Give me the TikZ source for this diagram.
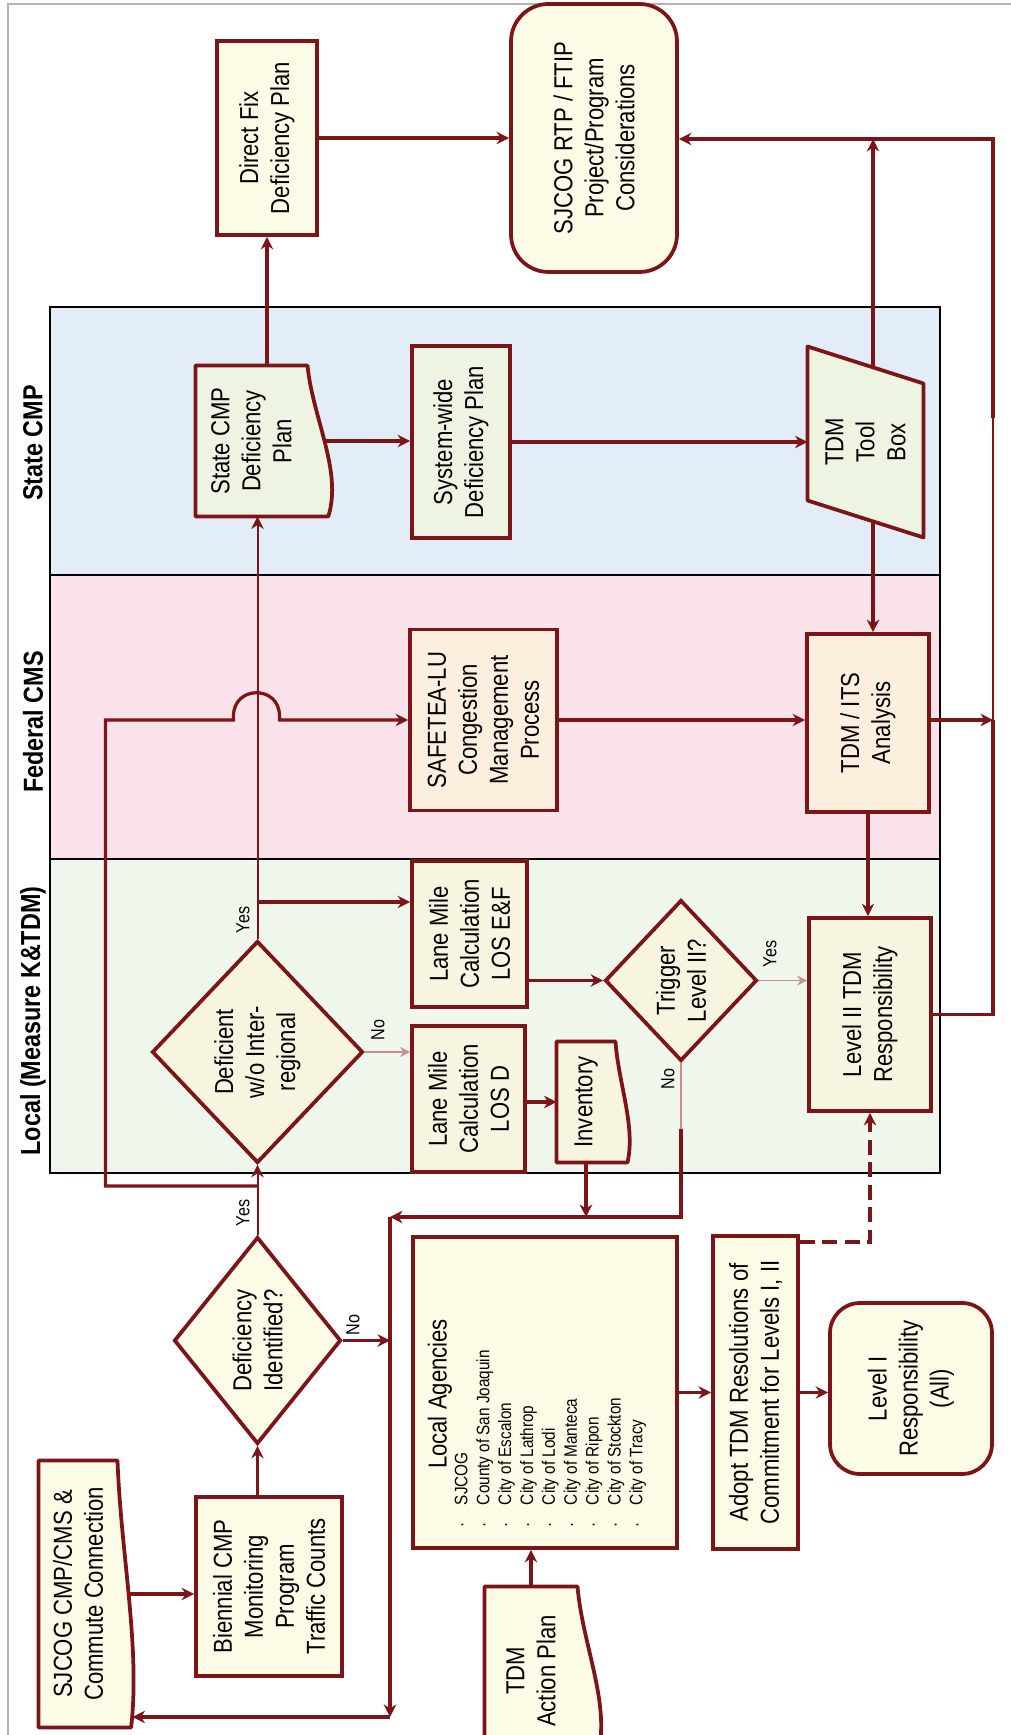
\documentclass[tikz,border=0pt]{standalone}
\usepackage{fontspec}
\setmainfont{Liberation Sans}[FakeStretch=0.85]
\usepackage{tikz}
\usetikzlibrary{positioning,arrows.meta,shapes.geometric,calc}

\definecolor{cmpred}{HTML}{7D1518}
\definecolor{cmplight}{HTML}{CC8E90}
\definecolor{laneblue}{HTML}{E3EDF8}
\definecolor{lanepink}{HTML}{FAE2EB}
\definecolor{lanegreen}{HTML}{EFF6EC}
\definecolor{fillcream}{HTML}{FCFBE6}
\definecolor{fillsage}{HTML}{EEF4E2}
\definecolor{fillpeach}{HTML}{FDEFDD}
\definecolor{fillstraw}{HTML}{F7F5DF}

\newcommand{\nodefont}{\fontsize{10.4}{12.4}\selectfont}

\pgfdeclarelayer{lanes}
\pgfdeclarelayer{shapes}
\pgfsetlayers{lanes,shapes,main}

% document symbol: wavy lower edge under the node body
\newcommand{\docoutline}[3]{%
  \begin{pgfonlayer}{shapes}
    \filldraw[draw=cmpred, line width=1.5pt, fill=#2, line join=round]
      (#1.north west) -- (#1.north east) -- (#1.south east)
      .. controls ($(#1.south east)!0.35!(#1.south west)+(0,{0.2*#3})$)
             and ($(#1.south east)!0.7!(#1.south west)+(0,{1.35*#3})$)
      .. ($(#1.south west)+(0,{0.8*#3})$) -- cycle;
  \end{pgfonlayer}}

\begin{document}
\begin{tikzpicture}[x=0.4pt, y=-0.4pt, rotate=90, transform shape,
  >={Stealth[length=5pt,width=5pt]},
  box/.style={draw=cmpred, line width=1.5pt, inner sep=2pt, align=center, font=\nodefont},
  docbox/.style={inner sep=2pt, align=center, font=\nodefont},
  decision/.style={diamond, draw=cmpred, line width=1.5pt, inner sep=0pt, align=center, font=\nodefont},
  terminal/.style={box, rounded corners=15pt},
  lanelabel/.style={font=\fontsize{11}{13}\selectfont\bfseries},
  yn/.style={font=\fontsize{7.6}{9}\selectfont, inner sep=1pt},
  line/.style={draw=cmpred, line width=1.3pt},
  arr/.style={line, ->},
  midarr/.style={draw=cmpred, line width=0.8pt, ->},
  lightline/.style={draw=cmplight, line width=0.7pt},
  thinarr/.style={lightline, -{Stealth[length=4pt,width=4pt]}},
  dasharr/.style={arr, dash pattern=on 6pt off 3pt}]

  \useasboundingbox (0,0) rectangle (1735,1011);
  \clip (0,0) rectangle (1735,1011);

  \begin{pgfonlayer}{lanes}
    \fill[laneblue] (1160,50) rectangle (1428,940);
    \fill[lanepink] (876,50) rectangle (1160,940);
    \fill[lanegreen] (562,50) rectangle (876,940);
    \draw[line width=0.8pt] (562,50) rectangle (1428,940)
      (876,50) -- (876,940) (1160,50) -- (1160,940);
  \end{pgfonlayer}
  \draw[gray!60, line width=0.6pt] (-5,8) -- (1731,8) -- (1731,1020);

  \node[lanelabel] (statelbl) at (1292,33) {State CMP};
  \node[lanelabel] (fedlbl) at (1013,33) {Federal CMS};
  \node[lanelabel] (locallbl) at (714,33) {Local (Measure K\&TDM)};

  \node[box, fill=fillcream, minimum width=77.6pt, minimum height=40pt] (directfix) at (1597,267) {Direct Fix\\Deficiency Plan};
  \node[terminal, fill=fillcream, minimum width=107.2pt, minimum height=66.4pt] (rtp) at (1597,594) {SJCOG RTP / FTIP\\Project/Program\\Considerations};
  \node[docbox, minimum width=60pt, minimum height=44.4pt] (statedoc) at (1294,251.5) {State CMP\\Deficiency\\Plan};
  \node[box, fill=fillsage, minimum width=76.8pt, minimum height=39.2pt] (syswide) at (1293,461) {System-wide\\Deficiency Plan};
  \node[docbox, minimum width=76pt, minimum height=46pt] (toolbox) at (1293,865.5) {TDM\\Tool\\Box};
  \node[box, fill=fillpeach, minimum width=72.4pt, minimum height=58.8pt] (safetea) at (1015,483.5) {SAFETEA-LU\\Congestion\\Management\\Process};
  \node[box, fill=fillpeach, minimum width=71.2pt, minimum height=48.8pt] (tdmits) at (1012,868) {TDM / ITS\\Analysis};
  \node[box, fill=fillstraw, minimum width=58.4pt, minimum height=46pt] (lmef) at (801,469.5) {Lane Mile\\Calculation\\LOS E\&F};
  \node[box, fill=fillstraw, minimum width=58.4pt, minimum height=45.2pt] (lmd) at (636,468.5) {Lane Mile\\Calculation\\LOS D};
  \node[docbox, minimum width=48pt, minimum height=23.2pt] (inventory) at (633,586) {Inventory};
  \node[decision, fill=fillstraw, minimum width=64.4pt, minimum height=60.8pt] (trigger) at (754.5,681) {Trigger\\Level II?};
  \node[box, fill=fillstraw, minimum width=77.2pt, minimum height=48.8pt] (level2) at (720.5,870) {Level II TDM\\Responsibility};
  \node[decision, fill=fillstraw, minimum width=88.8pt, minimum height=84.4pt] (deficient) at (683,257.5) {Deficient\\w/o Inter-\\regional};
  \node[decision, fill=fillcream, minimum width=82.8pt, minimum height=66.8pt] (defid) at (394.5,257.5) {Deficiency\\Identified?};
  \node[box, fill=fillcream, minimum width=71.6pt, minimum height=58.4pt] (biennial) at (148.5,269) {Biennial CMP\\Monitoring\\Program\\Traffic Counts};
  \node[docbox, minimum width=106.4pt, minimum height=31.2pt] (sjcogcmp) at (141,78) {SJCOG CMP/CMS \&\\Commute Connection};
  \node[box, fill=fillcream, minimum width=124.4pt, minimum height=105.6pt] (agencies) at (342.5,545) {};
  \node[font=\nodefont] (agtitle) at (341,440) {Local Agencies};
  \node[font=\fontsize{7.2}{8.75}\selectfont, align=left, anchor=west, inner sep=0pt] (aglist) at (207,550.5)
    {\makebox[9pt][l]{·}SJCOG\\\makebox[9pt][l]{·}County of San Joaquin\\\makebox[9pt][l]{·}City of Escalon\\
     \makebox[9pt][l]{·}City of Lathrop\\\makebox[9pt][l]{·}City of Lodi\\\makebox[9pt][l]{·}City of Manteca\\
     \makebox[9pt][l]{·}City of Ripon\\\makebox[9pt][l]{·}City of Stockton\\\makebox[9pt][l]{·}City of Tracy};
  \node[box, fill=fillcream, minimum width=125.2pt, minimum height=34pt] (adopt) at (342.5,755.5) {Adopt TDM Resolutions of\\Commitment for Levels I, II};
  \node[terminal, rounded corners=12pt, fill=fillcream, minimum width=68.4pt, minimum height=64.8pt] (level1) at (346.5,911) {Level I\\Responsibility\\(All)};
  \node[docbox, minimum width=67.2pt, minimum height=36.8pt] (actionplan) at (64,531) {TDM\\Action Plan};

  \docoutline{statedoc}{fillsage}{26}
  \docoutline{inventory}{fillstraw}{15}
  \docoutline{sjcogcmp}{fillcream}{17}
  \docoutline{actionplan}{fillcream}{25}
  \begin{pgfonlayer}{shapes}
    \filldraw[draw=cmpred, line width=1.5pt, fill=fillsage, line join=round]
      ($(toolbox.north west)+(37,0)$) -- (toolbox.north east)
      -- ($(toolbox.south east)+(-37,0)$) -- (toolbox.south west) -- cycle;
  \end{pgfonlayer}

  \coordinate (yesjoin) at (833,257.5);
  \coordinate (defyes) at (549,257.5);
  \coordinate (loopturn) at (518,390);
  \coordinate (loopbot) at (18,390);
  \coordinate (fbjoin) at (1015,993);
  \coordinate (fbup) at (1317,993);
  \coordinate (fbtop) at (1596,993);
  \coordinate (tbleft) at ($(toolbox.north west)!0.565!(toolbox.south west)+(16,0)$);
  \coordinate (tbright) at ($(toolbox.north east)!0.565!(toolbox.south east)+(-21,0)$);
  \coordinate (trigno) at ($(trigger.west)+(-66,0)$);

  \draw[arr] (directfix) -- (rtp);
  \draw[arr] (directfix.west -| statedoc.east) -- (directfix.west);
  \draw[arr] ($(statedoc.south)+(0,18)$) -- (statedoc.south |- syswide.north);
  \draw[arr] (syswide.south) -- (syswide.south |- toolbox.north);
  \draw[arr] (tbright) -- (tbright -| fbtop);
  \draw[arr] (tbleft) -- (tbleft -| tdmits.east);
  \draw[arr] (safetea.south) -- (safetea.south |- tdmits.north);
  \draw[arr] (tdmits.west) -- (tdmits.west -| level2.east);
  \draw[arr] (fbjoin |- tdmits.south) -- (fbjoin);
  \draw[line] (level2.south) |- (fbjoin);
  \draw[draw=cmpred, line width=0.6pt] (fbjoin) -- (fbup);
  \draw[arr] (fbup) -- (fbtop) -- (fbtop |- rtp.south);

  \draw[midarr] (deficient.east) -- (deficient.east -| statedoc.west);
  \draw[arr] (yesjoin) -- (yesjoin |- lmef.north);
  \draw[thinarr] (deficient.south) -- (deficient.south |- lmd.north);
  \draw[arr] (trigger.north |- lmef.south) -- (trigger.north);
  \draw[arr] (inventory.north |- lmd.south) -- (inventory.north);
  \draw[thinarr] (trigger.south) -- (trigger.south |- level2.north);
  \draw[lightline] (trigger.west) -- (trigno);
  \draw[arr] (trigno) -| (loopturn);
  \draw[arr] (inventory.west) -- (inventory.west -| loopturn);
  \draw[arr] (loopturn) -- (loopbot);
  \draw[arr] (loopbot) -- ($(loopbot |- sjcogcmp.south)+(0,15)$);
  \draw[arr] (defid.south) -- (defid.south |- loopturn);
  \draw[midarr] (defid.east) -- (deficient.west);
  \draw[arr] (defyes) -- ++(0,-152) -- ++(466,0) -- ++(0,128) -- ++(4,0)
    .. controls +(31,0) and +(31,0) .. ++(0,46) -- ++(-4,0) -- (safetea.north);
  \draw[arr] (biennial.east |- defid.west) -- (defid.west);
  \draw[arr] ($(sjcogcmp.south)+(0,12)$) -- (sjcogcmp.south |- biennial.north);
  \draw[arr] (agencies) -- (adopt);
  \draw[arr] (adopt.south) -- (adopt.south |- level1.north);
  \draw[arr] (actionplan.east) -- (actionplan.east -| agencies.west);
  \draw[dasharr] ($(adopt.south east)+(-8,0)$) |- (level2.west);

  \node[yn] (yes1) at (815,243) {Yes};
  \node[yn] (no1) at (705,378) {No};
  \node[yn] (yes2) at (781,770) {Yes};
  \node[yn] (no2) at (656,668) {No};
  \node[yn] (yes3) at (522,243) {Yes};
  \node[yn] (no3) at (410,353) {No};
\end{tikzpicture}
\end{document}
